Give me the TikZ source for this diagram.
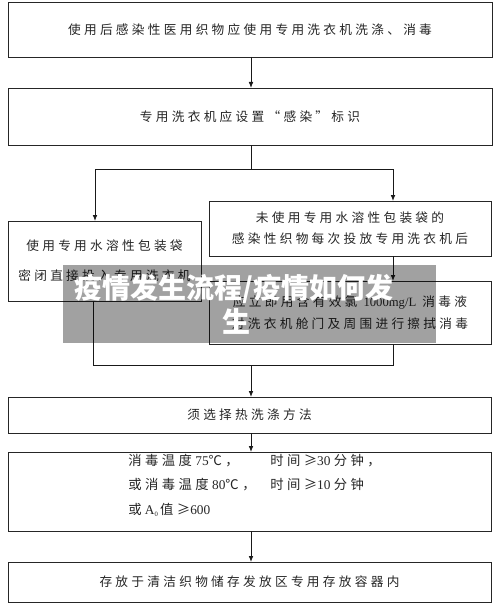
\documentclass[tikz,border=0pt]{standalone}
\usepackage{fontspec}
\setmainfont{Liberation Serif}
\newfontfamily\cjk{Noto Sans CJK SC}[LetterSpace=26]
\newfontfamily\wm{Noto Sans CJK SC}
\usetikzlibrary{arrows.meta}
\newcommand\zh[1]{{\cjk #1}}
\begin{document}
\begin{tikzpicture}[x=0.75pt,y=-0.75pt,
  box/.style={draw=black!85,line width=0.6pt,inner sep=0pt,outer sep=0pt,align=center,
    font=\fontsize{9.5}{13}\selectfont\cjk,text=black!85},
  conn/.style={draw=black!90,line width=0.6pt},
  arr/.style={conn,-{Latex[length=4.5pt,width=3.5pt]}},
  t7/.style={anchor=west,inner sep=0pt,font=\fontsize{10}{11}\selectfont,text=black!85,text height=7pt,text depth=2pt},
  wmtext/.style={text=white,inner sep=0pt,font=\fontsize{21}{25}\selectfont\wm\bfseries}]
\useasboundingbox (0,0) rectangle (500,610);
\fill[white] (0,0) rectangle (500,610);

\node[box,minimum width=363pt,minimum height=41.25pt] (b1) at (250,29.5) {使用后感染性医用织物应使用专用洗衣机洗涤、消毒};
\node[box,minimum width=363pt,minimum height=42.75pt] (b2) at (250,116.5) {专用洗衣机应设置“感染”标识};
\node[box,minimum width=144.75pt,minimum height=60pt,font=\fontsize{9.5}{22.5}\selectfont\cjk] (b3) at (104.5,261) {使用专用水溶性包装袋\\密闭直接投入专用洗衣机};
\node[box,minimum width=211.5pt,minimum height=41.25pt,font=\fontsize{9.5}{15.75}\selectfont\cjk] (b4) at (350,228.5) {未使用专用水溶性包装袋的\\感染性织物每次投放专用洗衣机后};
\node[box,minimum width=211.5pt,minimum height=47.25pt,font=\fontsize{9.5}{16.5}\selectfont\cjk] (b5) at (350,312.5) {应立即用含有效氯 {\rmfamily 1000mg/L} 消毒液\\对洗衣机舱门及周围进行擦拭消毒};
\node[box,minimum width=362.25pt,minimum height=27pt] (b6) at (249.5,415) {须选择热洗涤方法};
\node[box,minimum width=362.25pt,minimum height=59.25pt] (b7) at (249.5,491.5) {};
\node[box,minimum width=362.25pt,minimum height=30pt] (b8) at (249.5,582) {存放于清洁织物储存发放区专用存放容器内};

\node[t7] (l1a) at (128,462) {\zh{消毒温度} 75\zh{℃，}};
\node[t7] (l1b) at (270,462) {\zh{时间≥}30 \zh{分钟，}};
\node[t7] (l2a) at (128,486) {\zh{或消毒温度} 80\zh{℃，}};
\node[t7] (l2b) at (270,486) {\zh{时间≥}10 \zh{分钟}};
\node[t7] (l3a) at (128,511) {\zh{或} A\raisebox{-0.35ex}{\tiny 0}\,\zh{值≥}600};

\coordinate (split) at (251,169);
\coordinate (L) at (95,169);
\coordinate (R) at (393,169);
\coordinate (ML) at (93,365);
\coordinate (MR) at (393,365);
\coordinate (MC) at (251,365);

\draw[arr] (b1.south -| split) -- (b2.north -| split);
\draw[conn] (b2.south -| split) -- (split);
\draw[arr] (L) -- (R) -- (b4.north -| R);
\draw[arr] (L) -- (b3.north -| L);
\draw[arr] (b4.south -| R) -- (b5.north -| R);
\draw[conn] (b3.south -| ML) -- (ML) -- (MR) -- (b5.south -| MR);
\draw[arr] (MC) -- (b6.north -| MC);
\draw[arr] (b6.south -| MC) -- (b7.north -| MC);
\draw[arr] (b7.south -| MC) -- (b8.north -| MC);

\fill[black,opacity=0.37] (63,265) rectangle (436,343);
\node[wmtext] (wm1) at (234,289) {疫情发生流程/疫情如何发};
\node[wmtext] (wm2) at (236,321) {生};
\end{tikzpicture}
\end{document}
